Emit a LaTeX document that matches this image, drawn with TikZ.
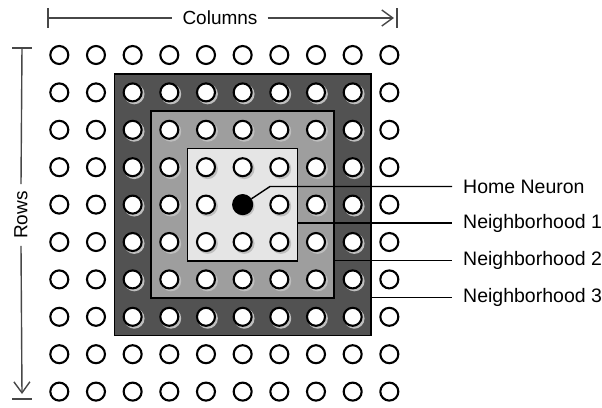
\documentclass[tikz,border=0pt]{standalone}
\usepackage{fontspec}
\setmainfont{Liberation Sans}
\usetikzlibrary{calc,arrows.meta}
\begin{document}
\begin{tikzpicture}[x=1pt,y=-1pt,
  neuron/.style={circle,draw=black,line width=2.1pt,fill=white,minimum size=18pt,inner sep=0pt},
  zone/.style={draw=black,line width=1.6pt},
  axis/.style={draw=black!72,line width=1.4pt},
  tag/.style={anchor=west,inner xsep=11pt,inner ysep=0pt,font=\fontsize{19.5}{22}\selectfont},
  lead/.style={line width=1.4pt}]
\useasboundingbox (0,0) rectangle (602,407);
% grid of neuron positions
\foreach \i in {0,...,9}
  \foreach \j in {0,...,9}
    \coordinate (p-\i-\j) at ({59.3+36.67*\i},{55+37.4*\j});
% neighborhoods
\draw[zone,fill=black!68] ($(p-2-1)+(-18.3,-18.7)$) rectangle ($(p-8-7)+(18.3,18.7)$) coordinate (z3);
\draw[zone,fill=black!38] ($(p-3-2)+(-18.3,-18.7)$) rectangle ($(p-7-6)+(18.3,18.7)$) coordinate (z2);
\draw[zone,fill=black!10] ($(p-4-3)+(-18.3,-18.7)$) rectangle ($(p-6-5)+(18.3,18.7)$) coordinate (z1);
% shadows inside the neighborhoods
\foreach \i in {2,...,8}
  \foreach \j in {1,...,7}
    \fill[gray!50] ($(p-\i-\j)+(1.6,1.6)$) circle (10.3pt);
% neurons
\foreach \i in {0,...,9}
  \foreach \j in {0,...,9}
    \node[neuron] (n-\i-\j) at (p-\i-\j) {};
\node[neuron,fill=black,minimum size=19pt] (home) at (p-5-4) {};
% labels
\node[tag] (lhome) at (452,186.5) {Home Neuron};
\node[tag] (lone) at (452,223) {Neighborhood 1};
\node[tag] (ltwo) at (452,260.5) {Neighborhood 2};
\node[tag] (lthree) at (452,297.5) {Neighborhood 3};
\coordinate (bend) at (270,186.5);
\draw[lead] (home) -- (bend) -- (lhome.west);
\draw[lead] (z1 |- lone.west) -- (lone.west);
\draw[lead] (z2 |- ltwo.west) -- (ltwo.west);
\draw[lead] (z3 |- lthree.west) -- (lthree.west);
% axes
\node[inner xsep=10pt,font=\fontsize{19}{22}\selectfont] (cols) at (220,18) {Columns};
\coordinate (cl) at (48,18);
\coordinate (cr) at (397,18);
\draw[axis] ($(cl)+(0,-10)$) -- ($(cl)+(0,10)$);
\draw[axis] ($(cr)+(0,-10)$) -- ($(cr)+(0,10)$);
\draw[axis] (cl) -- (cols.west);
\draw[axis,-{Straight Barb[length=11pt,width=16pt]}] (cols.east) -- ($(cr)+(-3,0)$);
\node[rotate=90,inner xsep=7pt,font=\fontsize{19}{22}\selectfont] (rows) at (21,215) {Rows};
\coordinate (rt) at (22,48);
\coordinate (rb) at (22,399);
\draw[axis] ($(rt)+(-10,0)$) -- ($(rt)+(10,0)$);
\draw[axis] ($(rb)+(-10,0)$) -- ($(rb)+(10,0)$);
\draw[axis] (rt) -- (rows.east);
\draw[axis,-{Straight Barb[length=11pt,width=16pt]}] (rows.west) -- ($(rb)+(0,-5)$);
\end{tikzpicture}
\end{document}
